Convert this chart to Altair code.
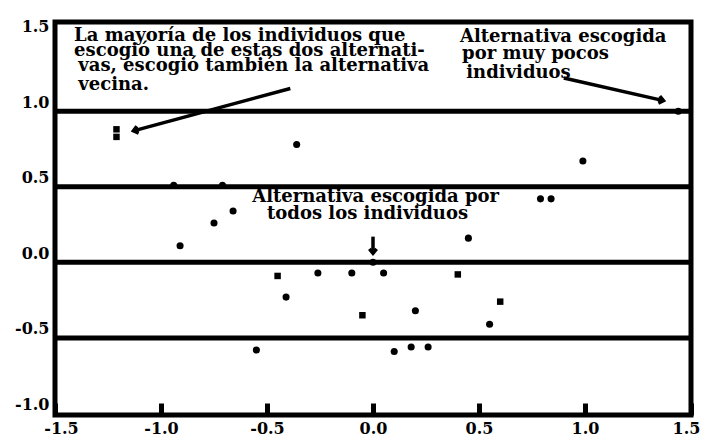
import altair as alt
import pandas as pd

# ---- data ----
circle_x = [-0.36, -0.94, -0.71, -0.66, -0.75, -0.91, 0.45, 0.99, 0.79, 0.84, 1.44,
            0.00, -0.26, -0.10, 0.05, -0.41, 0.20, 0.55, -0.55, 0.10, 0.18, 0.26]
circle_y = [0.78, 0.51, 0.51, 0.34, 0.26, 0.11, 0.16, 0.67, 0.42, 0.42, 1.00,
            0.00, -0.07, -0.07, -0.07, -0.23, -0.32, -0.41, -0.58, -0.59, -0.56, -0.56]
square_x = [-1.21, -1.21, -0.45, 0.40, -0.05, 0.60]
square_y = [0.88, 0.83, -0.09, -0.08, -0.35, -0.26]

hline_y = [1.0, 0.5, 0.0, -0.5]
x_ticks = [-1.5, -1, -0.5, 0, 0.5, 1, 1.5]
y_ticks = [-1.0, -0.5, 0.0, 0.5, 1.0, 1.5]
x_domain = [-1.5, 1.5]
y_domain = [-1.01, 1.59]

# annotation text lines
note_text = [
    "La mayoría de los individuos que",
    "escogió una de estas dos alternati-",
    "vas, escogió también la alternativa",
    "vecina.",
    "Alternativa escogida",
    "por muy pocos",
    "individuos",
    "Alternativa escogida por",
    "todos los individuos",
]
note_x = [-1.41, -1.41, -1.39, -1.39, 0.41, 0.42, 0.44, -0.57, -0.50]
note_y = [1.56, 1.46, 1.36, 1.23, 1.55, 1.44, 1.31, 0.49, 0.38]

# arrows: start -> end
arrow_x = [-0.39, 0.90, 0.00]
arrow_y = [1.15, 1.22, 0.17]
arrow_x2 = [-1.13, 1.37, 0.00]
arrow_y2 = [0.87, 1.07, 0.06]
arrow_angle = [165, 12, 90]

FONT = "DejaVu Serif"

pts_c = pd.DataFrame({"x": circle_x, "y": circle_y})
pts_s = pd.DataFrame({"x": square_x, "y": square_y})
hl = pd.DataFrame({"y": hline_y})
notes = pd.DataFrame({"t": note_text, "x": note_x, "y": note_y})
arrows = pd.DataFrame({"x": arrow_x, "y": arrow_y, "x2": arrow_x2, "y2": arrow_y2,
                       "a": arrow_angle})

xscale = alt.Scale(domain=x_domain, nice=False, zero=False)
yscale = alt.Scale(domain=y_domain, nice=False, zero=False)

xaxis = alt.Axis(values=x_ticks, title=None, grid=False, domain=False,
                 ticks=True, tickSize=12, tickWidth=5, tickColor="black",
                 offset=-12, labelPadding=5,
                 labelOffset={"condition": [
                     {"test": "datum.value == 1.5", "value": -5},
                     {"test": "datum.value == -1.5", "value": 6}],
                     "value": 0},
                 labelExpr="replace(datum.label, '\u2212', '-')",
                 labelFont=FONT, labelFontWeight="bold", labelFontSize=16,
                 labelColor="black", labelFlush=False)
yaxis = alt.Axis(values=y_ticks, title=None, grid=False, domain=False,
                 ticks=False, format=".1f", labelPadding=6, labelOffset=-9,
                 labelExpr="replace(datum.label, '\u2212', '-')",
                 labelFont=FONT, labelFontWeight="bold", labelFontSize=16,
                 labelColor="black")

X = alt.X("x:Q", scale=xscale, axis=xaxis)
Y = alt.Y("y:Q", scale=yscale, axis=yaxis)

rules = alt.Chart(hl).mark_rule(color="black", strokeWidth=5).encode(
    y=alt.Y("y:Q", scale=yscale, axis=yaxis))

circles = alt.Chart(pts_c).mark_point(shape="circle", filled=True, color="black",
                                      size=50, opacity=1).encode(x=X, y=Y)
squares = alt.Chart(pts_s).mark_point(shape="square", filled=True, color="black",
                                      size=42, opacity=1).encode(x=X, y=Y)

arrow_lines = alt.Chart(arrows).mark_rule(color="black", strokeWidth=3.5).encode(
    x=X, y=Y, x2="x2:Q", y2="y2:Q")
arrow_heads = alt.Chart(arrows).mark_point(
    shape="M-1,-0.8L0,0L-1,0.8", filled=False, color="black", strokeWidth=3.5,
    size=80, opacity=1).encode(
    x=alt.X("x2:Q", scale=xscale, axis=xaxis),
    y=alt.Y("y2:Q", scale=yscale, axis=yaxis),
    angle=alt.Angle("a:Q", scale=None))

texts = alt.Chart(notes).mark_text(
    align="left", baseline="top", font=FONT, fontWeight="bold", fontSize=18,
    color="black").encode(x=X, y=Y, text="t:N")

chart = alt.layer(rules, circles, squares, arrow_lines, arrow_heads, texts).properties(
    width=636, height=393,
    padding={"left": 47, "top": 14, "right": 10, "bottom": 25},
    autosize=alt.AutoSizeParams(type="none"),
    background="white",
).configure_view(stroke="black", strokeWidth=5)

chart.save("out.html", embed_options={"renderer": "svg", "actions": False})
